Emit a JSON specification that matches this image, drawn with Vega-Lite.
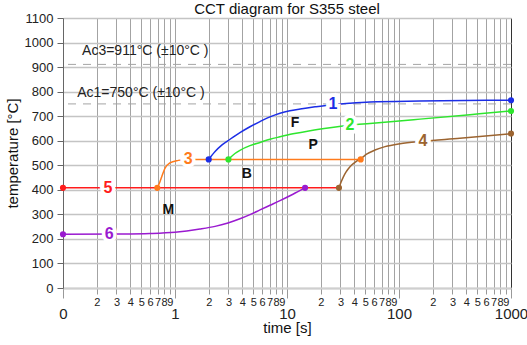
{
  "$schema": "https://vega.github.io/schema/vega-lite/v6.json",
  "width": 448,
  "height": 270,
  "autosize": "none",
  "padding": {"left": 63, "top": 18, "right": 16, "bottom": 57},
  "title": {"text": "CCT diagram for S355 steel", "fontSize": 15, "fontWeight": "normal", "font": "Liberation Sans", "color": "#111", "offset": -5},
  "config": {
    "view": {"stroke": null},
    "font": "Liberation Sans",
    "axisY": {"labelOverlap": false},
    "axisX": {"labelOverlap": false}
  },
  "datasets": {
    "curves": [
      {"s": "1", "t": 2, "temp": 524}, {"s": "1", "t": 2.28, "temp": 556}, {"s": "1", "t": 2.63, "temp": 583}, {"s": "1", "t": 3.1, "temp": 606}, {"s": "1", "t": 3.8, "temp": 633}, {"s": "1", "t": 4.67, "temp": 657}, {"s": "1", "t": 5.74, "temp": 678}, {"s": "1", "t": 7.05, "temp": 697}, {"s": "1", "t": 8.66, "temp": 712}, {"s": "1", "t": 10.6, "temp": 722}, {"s": "1", "t": 13.1, "temp": 729}, {"s": "1", "t": 17.8, "temp": 738}, {"s": "1", "t": 24.2, "temp": 746}, {"s": "1", "t": 36.5, "temp": 753}, {"s": "1", "t": 55, "temp": 758}, {"s": "1", "t": 154, "temp": 762}, {"s": "1", "t": 1000, "temp": 765},
      {"s": "2", "t": 3, "temp": 524}, {"s": "2", "t": 3.43, "temp": 548}, {"s": "2", "t": 3.8, "temp": 561}, {"s": "2", "t": 4.67, "temp": 580}, {"s": "2", "t": 5.74, "temp": 593}, {"s": "2", "t": 7.05, "temp": 606}, {"s": "2", "t": 8.66, "temp": 616}, {"s": "2", "t": 11.3, "temp": 628}, {"s": "2", "t": 16.1, "temp": 641}, {"s": "2", "t": 24.2, "temp": 653}, {"s": "2", "t": 36.5, "temp": 663}, {"s": "2", "t": 55, "temp": 670}, {"s": "2", "t": 154, "temp": 688}, {"s": "2", "t": 429, "temp": 706}, {"s": "2", "t": 1000, "temp": 721},
      {"s": "3", "t": 0.695, "temp": 408}, {"s": "3", "t": 0.73, "temp": 430}, {"s": "3", "t": 0.76, "temp": 452}, {"s": "3", "t": 0.81, "temp": 486}, {"s": "3", "t": 0.9, "temp": 510}, {"s": "3", "t": 1.07, "temp": 520}, {"s": "3", "t": 1.3, "temp": 524}, {"s": "3", "t": 45.5, "temp": 524},
      {"s": "4", "t": 29.1, "temp": 408}, {"s": "4", "t": 30.3, "temp": 430}, {"s": "4", "t": 31.8, "temp": 452}, {"s": "4", "t": 33.6, "temp": 472}, {"s": "4", "t": 35.3, "temp": 486}, {"s": "4", "t": 38, "temp": 502}, {"s": "4", "t": 41.3, "temp": 515}, {"s": "4", "t": 46.7, "temp": 531}, {"s": "4", "t": 51.8, "temp": 546}, {"s": "4", "t": 61, "temp": 562}, {"s": "4", "t": 75, "temp": 576}, {"s": "4", "t": 102, "temp": 588}, {"s": "4", "t": 164, "temp": 598}, {"s": "4", "t": 350, "temp": 610}, {"s": "4", "t": 1000, "temp": 629},
      {"s": "5", "t": 0.1, "temp": 408}, {"s": "5", "t": 29.1, "temp": 408},
      {"s": "6", "t": 0.1, "temp": 219}, {"s": "6", "t": 0.323, "temp": 220}, {"s": "6", "t": 0.598, "temp": 222}, {"s": "6", "t": 1, "temp": 227}, {"s": "6", "t": 1.67, "temp": 240}, {"s": "6", "t": 2.28, "temp": 251}, {"s": "6", "t": 2.97, "temp": 265}, {"s": "6", "t": 3.8, "temp": 282}, {"s": "6", "t": 4.67, "temp": 299}, {"s": "6", "t": 5.74, "temp": 318}, {"s": "6", "t": 7.05, "temp": 337}, {"s": "6", "t": 8.66, "temp": 356}, {"s": "6", "t": 11.3, "temp": 382}, {"s": "6", "t": 14.5, "temp": 408}
    ],
    "dots": [
      {"s": "5", "t": 0.1, "temp": 408}, {"s": "6", "t": 0.1, "temp": 219}, {"s": "3", "t": 0.695, "temp": 408},
      {"s": "1", "t": 2, "temp": 524}, {"s": "2", "t": 3, "temp": 524}, {"s": "6", "t": 14.5, "temp": 408},
      {"s": "4", "t": 29.1, "temp": 408}, {"s": "3", "t": 45.5, "temp": 524},
      {"s": "1", "t": 1000, "temp": 765}, {"s": "2", "t": 1000, "temp": 721}, {"s": "4", "t": 1000, "temp": 629}
    ],
    "lineLabels": [
      {"s": "1", "t": 25.7, "temp": 748}, {"s": "2", "t": 36.5, "temp": 663}, {"s": "3", "t": 1.31, "temp": 524},
      {"s": "4", "t": 164, "temp": 598}, {"s": "5", "t": 0.252, "temp": 408}, {"s": "6", "t": 0.258, "temp": 219}
    ],
    "regions": [
      {"name": "F", "t": 11.8, "temp": 672}, {"name": "P", "t": 17.1, "temp": 581},
      {"name": "B", "t": 4.37, "temp": 466}, {"name": "M", "t": 0.87, "temp": 316}
    ],
    "thresholds": [{"temp": 911}, {"temp": 750}],
    "limits": [
      {"name": "Ac3=911°C (±10°C )", "t": 0.148, "temp": 966},
      {"name": "Ac1=750°C (±10°C )", "t": 0.134, "temp": 795}
    ]
  },
  "encoding": {
    "y": {
      "field": "temp", "type": "quantitative",
      "scale": {"domain": [0, 1100], "nice": false},
      "title": "temperature [°C]",
      "axis": {
        "values": [0,100,200,300,400,500,600,700,800,900,1000,1100],
        "format": "d",
        "labelOverlap": false,
        "tickSize": 6,
        "gridColor": "#c4c4c4",
        "gridWidth": 1.5,
        "domainColor": "#666",
        "tickColor": "#666",
        "labelFontSize": 13,
        "labelColor": "#222",
        "labelPadding": 4,
        "titleFontSize": 15,
        "titleFontWeight": "normal",
        "titleColor": "#111",
        "titlePadding": 4
      }
    }
  },
  "layer": [
    {
      "data": {"name": "thresholds"},
      "mark": {"type": "rule", "color": "#a5a5a5", "strokeDash": [8, 7], "strokeWidth": 1}
    },
    {
      "data": {"name": "curves"},
      "mark": {"type": "line", "strokeWidth": 1.5, "interpolate": "monotone"},
      "encoding": {
        "x": {
          "field": "t", "type": "quantitative",
          "scale": {"type": "log", "domain": [0.1, 1000], "nice": false},
          "title": "time [s]",
          "axis": {
            "values": [0.1,0.2,0.3,0.4,0.5,0.6,0.7,0.8,0.9,1,2,3,4,5,6,7,8,9,10,20,30,40,50,60,70,80,90,100,200,300,400,500,600,700,800,900,1000],
            "labelExpr": "indexof([0.1,1,10,100,1000], datum.value) >= 0 ? ['', datum.value < 1 ? '0' : format(datum.value, 'd')] : format(datum.value / pow(10, floor(log(datum.value) / LN10 + 1e-9)), '.0f')",
            "labelFontSize": {"condition": {"test": "indexof([0.1,1,10,100,1000], datum.value) >= 0", "value": 15}, "value": 11},
            "labelLineHeight": 6,
            "labelOverlap": false,
            "labelFlush": false,
            "labelBound": false,
            "labelColor": "#222",
            "labelPadding": 2,
            "tickSize": {"condition": {"test": "indexof([0.1,1,10,100,1000], datum.value) >= 0", "value": 10}, "value": 6},
            "tickColor": "#999",
            "gridColor": {"condition": {"test": "datum.value == 1000", "value": "#333"}, "value": "#a3a3a3"},
            "gridWidth": 1,
            "domainColor": "#cfcfcf",
            "domainWidth": 2,
            "titleFontSize": 15,
            "titleFontWeight": "normal",
            "titleColor": "#111",
            "titlePadding": -1
          }
        },
        "color": {"field": "s", "type": "nominal", "legend": null,
          "scale": {"domain": ["1", "2", "3", "4", "5", "6"], "range": ["#1c2ee6", "#2ee62e", "#ff7b1c", "#9c6430", "#ff1c1c", "#9a1ad0"]}},
        "detail": {"field": "s"}
      }
    },
    {
      "data": {"name": "limits"},
      "mark": {"type": "text", "align": "left", "baseline": "middle", "fontSize": 14, "color": "#222"},
      "encoding": {
        "x": {"field": "t", "type": "quantitative", "title": "time [s]"},
        "text": {"field": "name"}
      }
    },
    {
      "data": {"name": "lineLabels"},
      "mark": {"type": "text", "align": "center", "baseline": "middle", "fontSize": 16, "fontWeight": "bold", "stroke": "white", "strokeWidth": 7, "fill": "white"},
      "encoding": {
        "x": {"field": "t", "type": "quantitative", "title": "time [s]"},
        "text": {"field": "s"}
      }
    },
    {
      "data": {"name": "lineLabels"},
      "mark": {"type": "text", "align": "center", "baseline": "middle", "fontSize": 16, "fontWeight": "bold"},
      "encoding": {
        "x": {"field": "t", "type": "quantitative", "title": "time [s]"},
        "text": {"field": "s"},
        "color": {"field": "s", "type": "nominal", "legend": null}
      }
    },
    {
      "data": {"name": "regions"},
      "mark": {"type": "text", "align": "center", "baseline": "middle", "fontSize": 14, "fontWeight": "bold", "color": "#111"},
      "encoding": {
        "x": {"field": "t", "type": "quantitative", "title": "time [s]"},
        "text": {"field": "name"}
      }
    },
    {
      "data": {"name": "dots"},
      "mark": {"type": "point", "filled": true, "size": 38, "opacity": 1},
      "encoding": {
        "x": {"field": "t", "type": "quantitative", "title": "time [s]"},
        "color": {"field": "s", "type": "nominal", "legend": null}
      }
    }
  ]
}
